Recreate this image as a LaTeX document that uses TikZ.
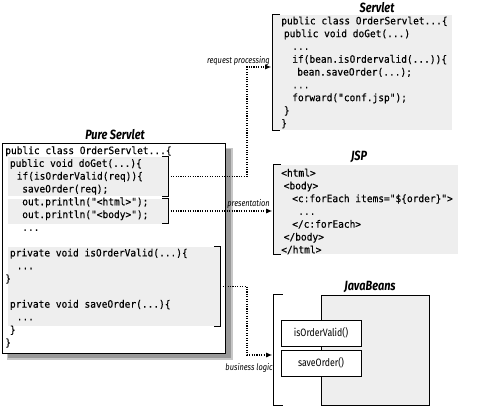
\documentclass[tikz,border=0pt]{standalone}
\usepackage{fontspec}
\setmainfont{Fira Sans}
\newfontfamily\codefont[FakeStretch=0.94,FakeBold=0.35]{DejaVu Sans Mono}
\newfontfamily\narrowfont[FakeStretch=0.82]{Fira Sans}
\usetikzlibrary{arrows.meta}

\newlength{\du}
\setlength{\du}{0.75pt}
\newcommand{\codeindent}[1]{\hspace*{#1\du}}

\definecolor{shadecolor}{rgb}{0.935,0.935,0.935}
\definecolor{shadowcolor}{rgb}{0.600000,0.600000,0.600000}

\tikzset{
  codetext/.style={inner sep=0pt, align=left, anchor=west,
    font=\codefont\fontsize{7.6}{9.6}\selectfont},
  hilite/.style={fill=shadecolor, inner sep=0pt},
  bracket/.style={line width=1.4\du},
  title/.style={inner sep=0pt, font=\narrowfont\fontsize{10}{12}\selectfont\bfseries\itshape},
  flowlabel/.style={inner sep=0pt, anchor=base east,
    font=\narrowfont\fontsize{6.8}{8}\selectfont\itshape},
  flow/.style={densely dotted, line width=1.1\du, shorten >=1.5\du,
    -{Latex[length=4.5pt,width=3.75pt]}},
  method/.style={draw, fill=white, line width=1\du, inner sep=0pt,
    minimum width=80\du, minimum height=26\du,
    font=\narrowfont\fontsize{8}{10}\selectfont},
}

\begin{document}
\begin{tikzpicture}
\pgftransformxscale{1.000000}
\pgftransformyscale{-1.000000}
\useasboundingbox (0\du,0\du) rectangle (481\du,417\du);
% pure servlet
\fill[shadowcolor!55] (7\du,148\du) rectangle (233\du,360\du);
\fill[shadowcolor] (8\du,149\du) rectangle (231\du,358\du);
\node[draw, fill=white, line width=1\du, inner sep=0pt,
  minimum width=223\du, minimum height=210\du] (pure) at (113.5\du,248\du) {};
\node[title] (puretitle) at (115\du,135\du) {Pure Servlet};
\node[hilite, minimum width=160\du, minimum height=39\du] (doget) at (88\du,176.5\du) {};
\node[hilite, minimum width=160\du, minimum height=25\du] (printout) at (88\du,211\du) {};
\node[hilite, minimum width=212\du, minimum height=79\du] (helpers) at (114\du,286.5\du) {};
\draw[bracket] ([xshift=-6\du]doget.north east) -- (doget.north east) -- (doget.south east) -- ([xshift=-6\du]doget.south east);
\draw[bracket] ([xshift=-6\du]printout.north east) -- (printout.north east) -- (printout.south east) -- ([xshift=-6\du]printout.south east);
\draw[bracket] ([xshift=-6\du]helpers.north east) -- (helpers.north east) -- (helpers.south east) -- ([xshift=-6\du]helpers.south east);
\node[codetext] (purecode) at (5\du,247\du) {%
public class OrderServlet...\{\\
\codeindent{4.7}public void doGet(...)\{\\
\codeindent{11.5}if(isOrderValid(req))\{\\
\codeindent{17}saveOrder(req);\\
\codeindent{17}out.println("<html>");\\
\codeindent{17}out.println("<body>");\\
\codeindent{17}...\\
\mbox{}\\
\codeindent{4.7}private void isOrderValid(...)\{\\
\codeindent{11.5}...\\
\}\\
\mbox{}\\
\codeindent{4.7}private void saveOrder(...)\{\\
\codeindent{11.5}...\\
\codeindent{4.7}\}\\
\}};
% servlet
\node[hilite, minimum width=179\du, minimum height=115\du] (servlet) at (362.5\du,72.5\du) {};
\draw[bracket] ([xshift=7\du]servlet.north west) -- (servlet.north west) -- (servlet.south west) -- ([xshift=7\du]servlet.south west);
\node[title] (servlettitle) at (377\du,8\du) {Servlet};
\node[codetext] (servletcode) at (281\du,72.5\du) {%
public class OrderServlet...\{\\
\codeindent{2.7}public void doGet(...)\\
\codeindent{11}...\\
\codeindent{11}if(bean.isOrdervalid(...))\{\\
\codeindent{16}bean.saveOrder(...);\\
\codeindent{11}...\\
\codeindent{11}forward("conf.jsp");\\
\codeindent{2.7}\}\\
\}};
% jsp
\node[hilite, minimum width=184\du, minimum height=89\du] (jsp) at (366\du,209.5\du) {};
\draw[bracket] ([xshift=7\du]jsp.north west) -- (jsp.north west) -- (jsp.south west) -- ([xshift=7\du]jsp.south west);
\node[title] (jsptitle) at (359\du,157\du) {JSP};
\node[codetext] (jspcode) at (281\du,211.5\du) {%
<html>\\
\codeindent{2.5}<body>\\
\codeindent{11}<c:forEach items="\$\{order\}">\\
\codeindent{17}...\\
\codeindent{11}</c:forEach>\\
\codeindent{2.5}</body>\\
</html>};
% javabeans
\node[inner sep=0pt, minimum width=155\du, minimum height=110\du] (beans) at (351.5\du,350\du) {};
\draw[bracket] ([xshift=9\du]beans.north west) -- (beans.north west) -- (beans.south west) -- ([xshift=9\du]beans.south west);
\node[draw, fill=shadecolor, line width=1\du, inner sep=0pt,
  minimum width=108\du, minimum height=110\du] (beanbox) at (375\du,350\du) {};
\node[title] (beanstitle) at (370\du,287\du) {JavaBeans};
\node[method] (validm) at (321\du,333\du) {isOrderValid()};
\node[method] (savem) at (321\du,363\du) {saveOrder()};
% connectors
\coordinate (turnA) at (247\du,67\du);
\coordinate (turnC) at (247\du,355\du);
\draw[flow] (doget.east) -| (turnA) -- (turnA -| servlet.west);
\draw[flow] (printout.east) -- (printout.east -| jsp.west);
\draw[flow] (helpers.east) -| (turnC) -- (turnC -| beans.west);
% setfont left to latex
\node[flowlabel] (reqlabel) at (270\du,64\du) {request processing};
\node[flowlabel] (preslabel) at (270\du,206\du) {presentation};
\node[flowlabel] (bizlabel) at (273\du,370\du) {business logic};
\end{tikzpicture}
\end{document}
